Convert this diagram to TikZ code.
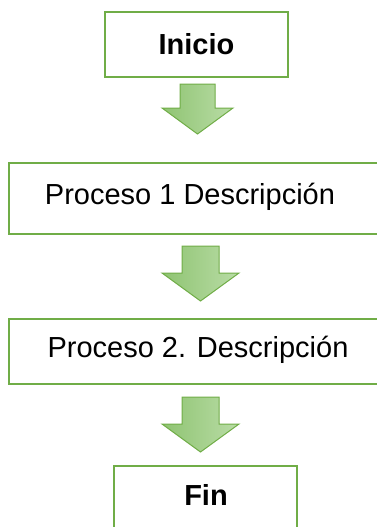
\documentclass[tikz,border=0pt]{standalone}
\usepackage{fontspec}
\setmainfont{Liberation Sans}
\definecolor{gline}{HTML}{70AD47}
\definecolor{gdark}{HTML}{8FC472}
\definecolor{glight}{HTML}{B9DCA6}
\begin{document}
\begin{tikzpicture}[x=1pt,y=-1pt,
  boxnode/.style={draw=gline,line width=2pt,fill=white,inner sep=0pt},
  downarrow/.style={draw=gline,line width=1pt,left color=gdark,right color=glight,line join=miter},
  lbl/.style={font=\fontsize{29}{34}\selectfont},
  blbl/.style={font=\fontsize{29}{34}\selectfont\bfseries}]
\useasboundingbox (0,0) rectangle (377,527);
\clip (0,0) rectangle (377,527);
% boxes
\draw[boxnode] (105,12) rectangle (288,77);
\node[blbl] (inicio) at (196.5,44) {Inicio};
\draw[boxnode] (9,163) rectangle (390,234);
\node[lbl] (p1) at (190,197) {Proceso 1 Descripción};
\draw[boxnode] (9,319) rectangle (390,384);
\node[lbl] (p2) at (198,350) {Proceso 2. Descripción};
\draw[boxnode] (114,466) rectangle (297,540);
\node[blbl] (fin) at (206,495) {Fin};
% arrows
\draw[downarrow] (180,84) -- (215,84) -- (215,108) -- (233,108) -- (197.5,134) -- (162,108) -- (180,108) -- cycle;
\draw[downarrow] (182,246) -- (219,246) -- (219,273) -- (239,273) -- (200.5,301) -- (162,273) -- (182,273) -- cycle;
\draw[downarrow] (182,397) -- (219,397) -- (219,424) -- (239,424) -- (200.5,452) -- (162,424) -- (182,424) -- cycle;
\end{tikzpicture}
\end{document}
